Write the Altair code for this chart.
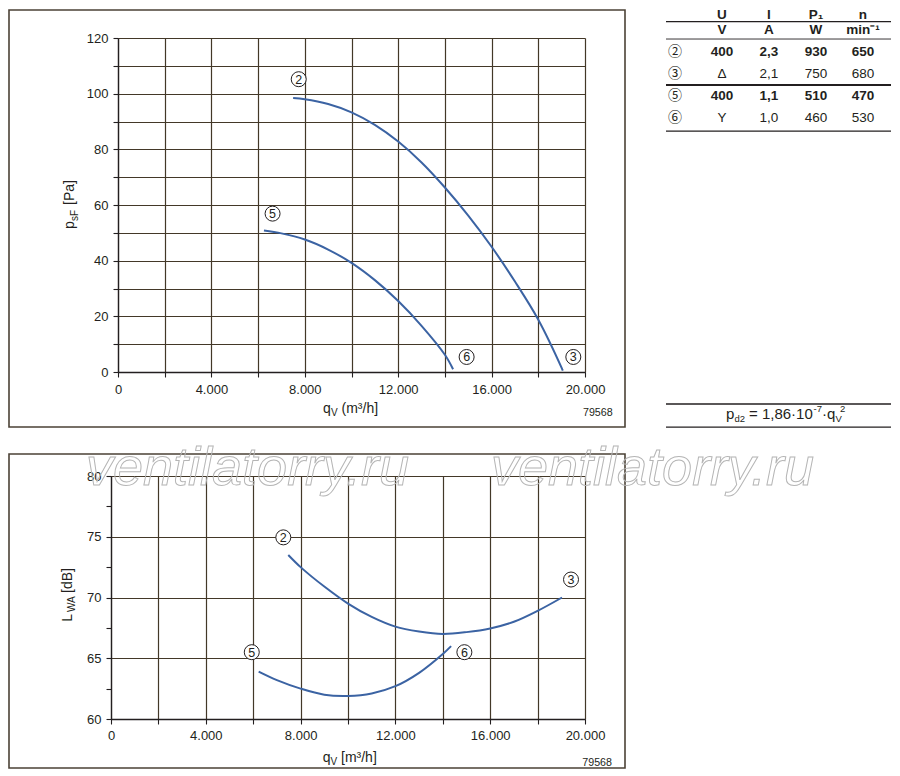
import altair as alt
import pandas as pd

FONT = "Liberation Sans"
INK = "#231f20"
GRID = "#433828"
FRAME = "#4b4236"
CURVE = "#3b63a3"
WATER = "#b5b5b5"

# ---------------- data: upper chart (static pressure) ----------------
TOP_Q_23 = [7500, 8000, 9000, 10000, 11000, 12000, 13000, 14000, 15000, 16000, 17000, 18000, 19000, 19050]
TOP_P_23 = [98.4, 98.0, 96.3, 93.3, 88.8, 82.8, 75.3, 66.3, 56.2, 45.0, 32.5, 18.8, 1.5, 0.5]
TOP_Q_56 = [6250, 7000, 8000, 9000, 10000, 11000, 12000, 13000, 14000, 14350]
TOP_P_56 = [50.8, 49.8, 47.6, 44.0, 39.2, 33.0, 25.5, 16.6, 6.2, 1.0]
TOP_MARK_ID = ["2", "5", "6", "3"]
TOP_MARK_Q = [7740, 6620, 14930, 19500]
TOP_MARK_P = [105.2, 56.9, 5.4, 5.4]

# ---------------- data: lower chart (sound power) ----------------
BOT_Q_23 = [7480, 8000, 9000, 10000, 11000, 12000, 13000, 14000, 15000, 16000, 17000, 18000, 19030]
BOT_L_23 = [73.5, 72.5, 70.9, 69.5, 68.4, 67.6, 67.2, 67.0, 67.15, 67.45, 68.0, 68.9, 70.0]
BOT_Q_56 = [6230, 7000, 8000, 9000, 10000, 11000, 12000, 13000, 14000, 14350]
BOT_L_56 = [63.9, 63.2, 62.5, 62.0, 61.9, 62.1, 62.7, 63.8, 65.35, 66.0]
BOT_MARK_ID = ["2", "5", "6", "3"]
BOT_MARK_Q = [7270, 5940, 14910, 19410]
BOT_MARK_L = [74.95, 65.5, 65.5, 71.48]

X_TICKS = [0, 2000, 4000, 6000, 8000, 10000, 12000, 14000, 16000, 18000, 20000]
Y_TICKS_TOP = [0, 10, 20, 30, 40, 50, 60, 70, 80, 90, 100, 110, 120]
Y_TICKS_BOT = [60, 62.5, 65, 67.5, 70, 72.5, 75, 77.5, 80]

# ---------------- data: table ----------------
HEAD = ["U", "I", "P\u2081", "n"]
UNITS = ["V", "A", "W", "min\u207b\u00b9"]
ROW_IDS = ["\u2461", "\u2462", "\u2464", "\u2465"]
ROW_U = ["400", "\u0394", "400", "Y"]
ROW_I = ["2,3", "2,1", "1,1", "1,0"]
ROW_P = ["930", "750", "510", "460"]
ROW_N = ["650", "680", "470", "530"]
ROW_BOLD = [True, False, True, False]
DRAWING_NO = "79568"
WATERMARK = "ventilatorry.ru"

one = alt.Data(values=[{"k": 0}])


def curves_df(names, qs_list, vs_list):
    rows = []
    for name, qs, vs in zip(names, qs_list, vs_list):
        for q, v in zip(qs, vs):
            rows.append({"curve": name, "q": q, "v": v})
    return pd.DataFrame(rows)


def txt(s, x, y, size=14, angle=0, align="left", weight="normal", font=FONT, baseline="alphabetic"):
    mk = dict(font=font, fontSize=size, align=align, baseline=baseline, fontWeight=weight, color=INK)
    if angle:
        mk["angle"] = angle
    return alt.Chart(one).mark_text(**mk).encode(
        x=alt.value(x), y=alt.value(y), text=alt.value(s))


def frame(x1, x2, y1, y2):
    return alt.Chart(one).mark_rect(fill="white", fillOpacity=0, stroke=FRAME, strokeWidth=1.6).encode(
        x=alt.value(x1), x2=alt.value(x2), y=alt.value(y1), y2=alt.value(y2))


def watermark(x, y):
    return alt.Chart(one).mark_text(
        font=FONT, fontSize=54, fontStyle="italic", align="left", baseline="alphabetic",
        fill="white", fillOpacity=0, stroke=WATER, strokeWidth=1
    ).encode(x=alt.value(x), y=alt.value(y), text=alt.value(WATERMARK))


LBL_X = "datum.value % 4000 === 0 ? replace(format(datum.value, ','), ',', '.') : ''"


def make_axis(values, expr, pad, grid_test=None, offset=0):
    kw = dict(values=values, labelExpr=expr, title=None, grid=True, gridColor=GRID, gridWidth=1.2,
              domainColor=INK, domainWidth=1.3, tickColor=INK, tickSize=5, tickWidth=1.1,
              labelFont=FONT, labelFontSize=13, labelColor=INK, labelPadding=pad,
              labelFlush=False, labelOverlap=False)
    if offset:
        kw["offset"] = offset
    if grid_test:
        kw["gridOpacity"] = {"condition": {"test": grid_test, "value": 1}, "value": 0}
    return alt.Axis(**kw)


def panel(curves, marks, X, Y, extra_front, extra_back):
    lines = alt.Chart(curves).mark_line(color=CURVE, strokeWidth=2, interpolate="catmull-rom").encode(
        x=X, y=Y, detail="curve:N")
    circ = alt.Chart(marks).mark_point(shape="circle", size=225, filled=True, fill="white",
                                       stroke=INK, strokeWidth=1, opacity=1).encode(x=X, y=Y)
    digits = alt.Chart(marks).mark_text(font=FONT, fontSize=12.5, color=INK, baseline="middle",
                                        dy=0.5).encode(x=X, y=Y, text="id:N")
    return alt.layer(*extra_back, lines, circ, digits, *extra_front)


# ---------------- upper panel ----------------
XT = alt.X("q:Q", scale=alt.Scale(domain=[0, 20000], nice=False, zero=False),
           axis=make_axis(X_TICKS, LBL_X, 6))
YT = alt.Y("v:Q", scale=alt.Scale(domain=[0, 120], nice=False),
           axis=make_axis(Y_TICKS_TOP, "datum.value % 20 === 0 ? datum.label : ''", 5))
top_curves = curves_df(["23", "56"], [TOP_Q_23, TOP_Q_56], [TOP_P_23, TOP_P_56])
top_marks = pd.DataFrame({"id": TOP_MARK_ID, "q": TOP_MARK_Q, "v": TOP_MARK_P})
top_panel = panel(
    top_curves, top_marks, XT, YT,
    extra_front=[
        txt("p", -44, 191, 14, angle=270),
        txt("sF", -40.5, 183, 10, angle=270),
        txt("[Pa]", -44, 167, 14, angle=270),
        txt("q", 205, 375, 14),
        txt("V", 213, 378, 10),
        txt("(m\u00b3/h]", 223.5, 375, 14),
        txt(DRAWING_NO, 494.7, 378.3, 10.7, align="right"),
    ],
    extra_back=[frame(-109, 507, -28, 389)],
).properties(width=467, height=334)

# ---------------- table ----------------
cells_bold, cells_norm = [], []
for c, (h, u) in enumerate(zip(HEAD, UNITS), start=1):
    cells_bold.append({"c": c, "r": 0, "t": h})
    cells_bold.append({"c": c, "r": 1, "t": u})
id_cells = []
for i, rid in enumerate(ROW_IDS):
    r = i + 2
    id_cells.append({"c": 0, "r": r, "t": rid})
    vals = [ROW_U[i], ROW_I[i], ROW_P[i], ROW_N[i]]
    target = cells_bold if ROW_BOLD[i] else cells_norm
    for c, v in enumerate(vals, start=1):
        target.append({"c": c, "r": r, "t": v})

# table plot area shares its top with the upper chart's plot area
TX = alt.X("c:Q", scale=alt.Scale(domain=[-0.1915, 4.596], nice=False, zero=False), axis=None)
TY = alt.Y("r:Q", scale=alt.Scale(domain=[1.3636, 19.0909], nice=False, zero=False, reverse=True), axis=None)

head_df = pd.DataFrame([d for d in cells_bold if d["r"] == 0])
unit_bold_df = pd.DataFrame([d for d in cells_bold if d["r"] > 0])
t_head = alt.Chart(head_df).mark_text(font=FONT, fontSize=13.5, fontWeight="bold", color=INK,
                                      baseline="middle", dy=7).encode(x=TX, y=TY, text="t:N")
t_bold = alt.Chart(unit_bold_df).mark_text(font=FONT, fontSize=13.5, fontWeight="bold", color=INK,
                                           baseline="middle").encode(x=TX, y=TY, text="t:N")
t_norm = alt.Chart(pd.DataFrame(cells_norm)).mark_text(font=FONT, fontSize=13.5, color=INK,
                                                       baseline="middle").encode(x=TX, y=TY, text="t:N")
t_ids = alt.Chart(pd.DataFrame(id_cells)).mark_text(font="Noto Sans CJK JP", fontSize=14, color=INK,
                                                    baseline="middle").encode(x=TX, y=TY, text="t:N")
rules_df = pd.DataFrame({"r": [0.62, 1.41, 3.5, 5.6, 18.0, 19.05], "w": [1.3, 0.9, 2.0, 1.3, 1.3, 1.3]})
t_rules = alt.Chart(rules_df).mark_rule(color=INK).encode(
    x=alt.value(0), x2=alt.value(225), y=TY, strokeWidth=alt.StrokeWidth("w:Q", scale=None, legend=None))
table = alt.layer(
    t_rules, t_head, t_bold, t_norm, t_ids,
    txt("p", 60, 381, 15),
    txt("d2", 68.5, 384, 9.5),
    txt("= 1,86\u00b710", 83, 381, 15),
    txt("-7", 147.5, 374, 9.5),
    txt("\u00b7q", 156, 381, 15),
    txt("V", 169.5, 384, 9.5),
    txt("2", 174, 374, 9.5),
).properties(width=225, height=390)

# ---------------- lower panel ----------------
# its plot origin is aligned with the upper one; the x range starts 7px further left
XB = alt.X("q:Q", scale=alt.Scale(domain=[0, 20000], range=[-7, 467], nice=False, zero=False),
           axis=make_axis(X_TICKS, LBL_X, 5))
YB = alt.Y("v:Q", scale=alt.Scale(domain=[60, 80], nice=False, zero=False),
           axis=make_axis(Y_TICKS_BOT, "datum.value % 5 === 0 ? datum.label : ''", 5,
                          grid_test="datum.value % 5 === 0", offset=7))
bot_curves = curves_df(["23", "56"], [BOT_Q_23, BOT_Q_56], [BOT_L_23, BOT_L_56])
bot_marks = pd.DataFrame({"id": BOT_MARK_ID, "q": BOT_MARK_Q, "v": BOT_MARK_L})
bottom_panel = panel(
    bot_curves, bot_marks, XB, YB,
    extra_front=[
        txt("L", -46, 145.7, 14, angle=270),
        txt("WA", -43, 136, 10, angle=270),
        txt("[dB]", -46, 117, 14, angle=270),
        txt("q", 204.7, 285.5, 14),
        txt("V", 212.5, 288.5, 10),
        txt("[m\u00b3/h]", 223, 285.5, 14),
        txt(DRAWING_NO, 494, 290, 10.7, align="right"),
        watermark(-32, 9),
        watermark(373, 9),
    ],
    extra_back=[frame(-109, 507, -22, 292)],
).properties(width=467, height=243)

top_row = alt.hconcat(top_panel, table, spacing=39)
chart = alt.vconcat(top_row, bottom_panel, spacing=14).properties(
    padding=0).configure_view(strokeWidth=0)

chart.save("out.html", embed_options={"renderer": "svg", "actions": False})
